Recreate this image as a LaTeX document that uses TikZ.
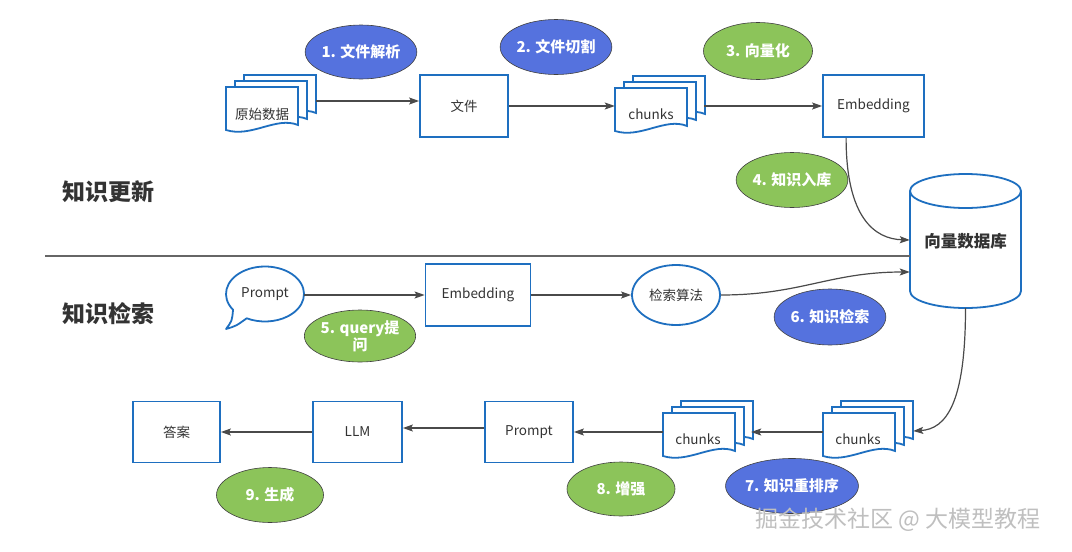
\documentclass[tikz,border=0pt]{standalone}
\usepackage{fontspec}
\setmainfont{Noto Sans CJK SC}
\usetikzlibrary{shapes.geometric,arrows.meta,calc}
\definecolor{lineblue}{HTML}{1E6FC0}
\definecolor{stepblue}{HTML}{5572DE}
\definecolor{stepgreen}{HTML}{8CC45A}
\definecolor{conn}{HTML}{4A4A4A}
\definecolor{txt}{HTML}{333333}
\newcommand\mydocpage[4]{% x y w h
  \draw[docline] (#1,#2) -- ++(#3,0) -- ++(0,#4-7)
    .. controls ($(#1,#2)+(0.7*#3,#4-16)$) and ($(#1,#2)+(0.35*#3,#4+6)$) .. ($(#1,#2)+(0,#4-2)$) -- cycle;}
\newcommand\mydocstack[2]{% front top-left x y
  \mydocpage{#1+18}{#2-12}{72}{45}
  \mydocpage{#1+9}{#2-6}{72}{45}
  \mydocpage{#1}{#2}{72}{45}}
\begin{document}
\begin{tikzpicture}[x=1pt,y=-1pt,
  docline/.style={draw=lineblue,line width=1.8pt,fill=white,line join=miter},
  boxnode/.style={draw=lineblue,line width=1.8pt,fill=white,rectangle,inner sep=0pt,
    text=txt,font=\fontsize{13.5pt}{16pt}\selectfont},
  lbl/.style={text=txt,inner sep=0pt,font=\fontsize{13.5pt}{16pt}\selectfont},
  hold/.style={inner sep=0pt,draw=none},
  stepb/.style={ellipse,fill=stepblue,draw=black!75,line width=0.6pt,inner sep=0pt,
    text=white,font=\fontsize{15pt}{16pt}\selectfont\bfseries,align=center},
  stepg/.style={stepb,fill=stepgreen},
  title/.style={text=txt,inner sep=0pt,font=\fontsize{23pt}{26pt}\selectfont\bfseries},
  arr/.style={draw=conn,line width=1.2pt,-{Stealth[length=10pt,width=7pt,inset=2pt]}},
  plain/.style={draw=conn,line width=1.2pt}]
\useasboundingbox (0,0) rectangle (1072,552);
\fill[white] (0,0) rectangle (1072,552);

% titles
\node[title] (t1) at (108,192) {知识更新};
\node[title] (t2) at (108,314) {知识检索};

% --- knowledge update row ---
\mydocstack{226}{87}
\node[lbl] (rawlbl) at (262,114) {原始数据};
\node[hold,minimum width=90pt,minimum height=52pt] (raw) at (271,101) {};
\node[boxnode,minimum width=88pt,minimum height=62pt] (file) at (464,106) {文件};
\mydocstack{615}{88}
\node[lbl] (chk1lbl) at (651,114) {chunks};
\node[hold,minimum width=89pt,minimum height=52pt] (chk1) at (659.5,106) {};
\node[boxnode,minimum width=101pt,minimum height=62pt] (emb1) at (873.5,106) {Embedding};

% vector db cylinder
\draw[docline] (910,191) -- (910,291) arc[start angle=180,end angle=0,x radius=55.5,y radius=17]
  -- (1021,191) arc[start angle=360,end angle=180,x radius=55.5,y radius=17] -- cycle;
\draw[docline,fill=none] (910,191) arc[start angle=180,end angle=0,x radius=55.5,y radius=17];
\node[hold,minimum width=111pt,minimum height=134pt,text=txt,
  font=\fontsize{16.5pt}{18pt}\selectfont\bfseries] (db) at (965.5,241) {向量数据库};

% step labels
\node[stepb,minimum width=108pt,minimum height=54pt] (s1) at (361,52) {1. 文件解析};
\node[stepb,minimum width=108pt,minimum height=55pt] (s2) at (556,47) {2. 文件切割};
\node[stepg,minimum width=109pt,minimum height=57pt] (s3) at (758,51) {3. 向量化};
\node[stepg,minimum width=107pt,minimum height=55pt] (s4) at (792,180) {4. 知识入库};

% connectors update
\draw[arr] (raw.east) -- (raw.east -| file.west);
\draw[arr] (file.east) -- (chk1.west);
\draw[arr] (chk1.east) -- (emb1.west);
\coordinate (e1) at ($(emb1.south west)+(24,0)$);
\draw[arr] (e1) .. controls ($(e1)+(0,80)$) and ($(db.west)+(-35,-2)$) .. ($(db.west)+(0,-1)$);

% divider
\coordinate (divL) at (45,256);
\draw[plain,draw=black!60] (divL) -- (divL -| db.west);

% --- retrieval row ---
\coordinate (pc) at (265,294);
\coordinate (tip) at (226,329);
\draw[draw=lineblue,line width=1.8pt,fill=white,line join=round]
  ($(pc)+(145:39 and 27.5)$) arc[start angle=145,end angle=478,x radius=39,y radius=27.5]
  .. controls ($(tip)+(10,-3)$) .. (tip) .. controls ($(tip)+(6,-8)$) .. cycle;
\node[ellipse,minimum width=78pt,minimum height=55pt,
  inner sep=0pt,text=txt,font=\fontsize{13.5pt}{16pt}\selectfont] (p1) at (pc) {Prompt};

\node[boxnode,minimum width=105pt,minimum height=62pt] (emb2) at (478,295) {Embedding};
\node[ellipse,draw=lineblue,line width=1.8pt,fill=white,minimum width=88pt,minimum height=60pt,
  inner sep=0pt,text=txt,font=\fontsize{13.5pt}{16pt}\selectfont] (alg) at (676,295) {检索算法};
\node[stepg,minimum width=107pt,minimum height=52pt,font=\fontsize{15pt}{17pt}\selectfont\bfseries] (s5) at (360,336) {5. query提\\问};
\node[stepb,minimum width=107pt,minimum height=56pt] (s6) at (830,317) {6. 知识检索};

\draw[arr] (p1.east |- emb2.west) -- (emb2.west);
\draw[arr] (emb2.east) -- (alg.west);
\draw[arr] (alg.east) .. controls ($(alg.east)+(80,0)$) and ($(db.west)+(-80,31)$) .. ($(db.west)+(0,31)$);

% --- generation row ---
\mydocstack{823}{413}
\node[lbl] (chk3lbl) at (858,439) {chunks};
\node[hold,minimum width=88pt,minimum height=52pt] (chk3) at (867,432) {};
\mydocstack{663}{413}
\node[lbl] (chk2lbl) at (698,439) {chunks};
\node[hold,minimum width=88pt,minimum height=52pt] (chk2) at (707,432) {};
\node[boxnode,minimum width=88pt,minimum height=61pt] (pr2) at (529,432) {Prompt};
\node[boxnode,minimum width=89pt,minimum height=61pt] (llm) at (357.5,432) {LLM};
\node[boxnode,minimum width=87pt,minimum height=61pt] (ans) at (176.5,432) {答案};

\node[stepb,minimum width=120pt,minimum height=55pt] (s7) at (792,486) {7. 知识重排序};
\node[stepg,minimum width=108pt,minimum height=54pt] (s8) at (621,489) {8. 增强};
\node[stepg,minimum width=107pt,minimum height=55pt] (s9) at (270,495) {9. 生成};

\draw[arr] (db.south) .. controls ($(db.south)+(0,95)$) and ($(chk3.east)+(35,-3)$) .. ($(chk3.east)+(2,-1)$);
\draw[arr] (chk3.west) -- (chk2.east);
\draw[arr] (chk2.west) -- (pr2.east);
\draw[arr] ($(pr2.west)+(0,-4)$) -- ($(llm.east)+(0,-4)$);
\draw[arr] (llm.west) -- (ans.east);

% watermark
\node[text=gray!50,inner sep=0pt,font=\fontsize{23pt}{26pt}\selectfont] (wm) at (898,520) {掘金技术社区 @ 大模型教程};
\end{tikzpicture}
\end{document}
